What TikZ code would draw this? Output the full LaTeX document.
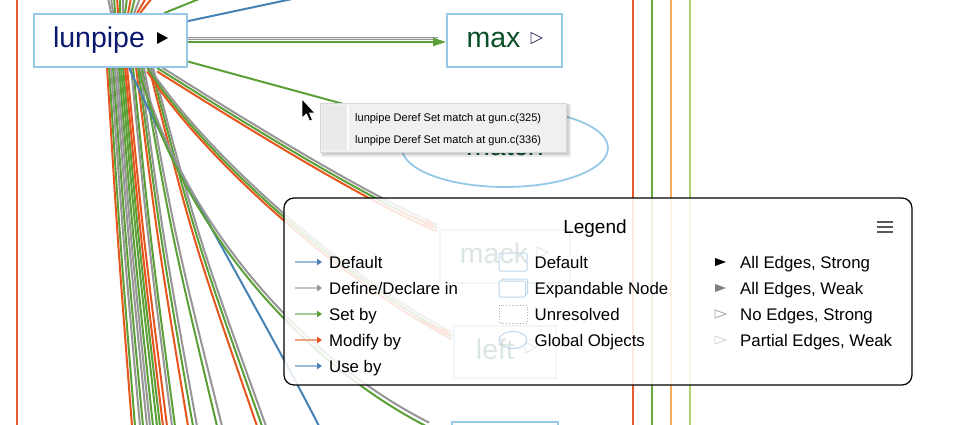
\documentclass[tikz,border=0pt]{standalone}
\usepackage{fontspec}
\setmainfont{Liberation Sans}
\usetikzlibrary{arrows.meta,shapes.geometric,calc}
\definecolor{nodeblue}{RGB}{150,200,232}
\definecolor{iconblue}{RGB}{190,215,235}
\definecolor{eblue}{RGB}{70,130,180}
\definecolor{egray}{RGB}{150,150,150}
\definecolor{egreen}{RGB}{90,160,55}
\definecolor{eorange}{RGB}{230,85,30}
\definecolor{vred}{RGB}{232,90,45}
\definecolor{vgreen}{RGB}{105,170,65}
\definecolor{vorange}{RGB}{250,170,90}
\definecolor{vlgreen}{RGB}{170,210,110}
\definecolor{navy}{RGB}{10,25,110}
\definecolor{dgreen}{RGB}{10,80,40}
\definecolor{hollowtri}{RGB}{70,50,100}
\definecolor{ttgray}{RGB}{240,240,240}
\definecolor{ttleft}{RGB}{234,234,234}
\definecolor{ttborder}{RGB}{215,215,215}
\newcommand\sizept[1]{\fontsize{#1pt}{#1pt}\selectfont}
\pgfdeclarelayer{edges}
\pgfdeclarelayer{bgnodes}
\pgfdeclarelayer{legendlayer}
\pgfdeclarelayer{toplayer}
\pgfsetlayers{edges,bgnodes,legendlayer,main,toplayer}
\begin{document}
\begin{tikzpicture}[x=1pt,y=-1pt,
  ln/.style={line width=2pt},
  nbox/.style={draw=nodeblue,line width=1.8pt,fill=white,inner sep=0pt,text height=20.5pt,text depth=6pt,font=\sizept{28.5}},
  arrowhd/.style={-{Triangle[length=13pt,width=8pt]}},
  legtxt/.style={anchor=base west,inner sep=0pt,font=\sizept{16.8}},
  legarrow/.style={line width=1.6pt,draw=#1!55!white,-{Triangle[length=5pt,width=6.5pt,color=#1]}}]
\useasboundingbox (0,0) rectangle (964,424);

% ---------- main nodes ----------
\begin{scope}
\clip (0,0) rectangle (964,424);
\node[nbox,minimum width=153pt,minimum height=53pt,text=navy] (lunpipe) at (110.5,40.5) {lunpipe\kern23pt};
\fill[black] (157,32) -- (168,38) -- (157,44) -- cycle;
\node[nbox,minimum width=115pt,minimum height=53pt,text=dgreen] (max) at (504.5,40.5) {max\kern22pt};
\draw[hollowtri,line width=0.8pt] (531,32.5) -- (542,38) -- (531,43.5) -- cycle;
\node[ellipse,draw=nodeblue,line width=1.8pt,fill=white,minimum width=206pt,minimum height=78pt,inner sep=0pt,text height=20.5pt,text depth=6pt,font=\sizept{28.5},text=dgreen] (match) at (505,148) {match};
\node[nbox,minimum width=106pt,minimum height=52pt] (bnode) at (505,448) {};
\end{scope}

% ---------- nodes hidden behind the legend ----------
\begin{pgfonlayer}{bgnodes}
\node[nbox,minimum width=130pt,minimum height=53pt,text=dgreen] (mack) at (505,256.5) {mack\kern22pt};
\draw[hollowtri,line width=0.8pt] (537,247) -- (548,252.5) -- (537,258) -- cycle;
\node[nbox,minimum width=102pt,minimum height=52pt,text=dgreen] (left) at (505,352) {left\kern20pt};
\draw[hollowtri,line width=0.8pt] (525,342) -- (536,347.5) -- (525,353) -- cycle;
\end{pgfonlayer}

% ---------- edges ----------
\begin{pgfonlayer}{edges}
\begin{scope}
\clip (0,0) rectangle (964,424);
% vertical lines
\foreach \x/\c [count=\i] in {17/vred,633/vred,652/vgreen,671/vorange,690/vlgreen}{
  \coordinate (vt\i) at (\x,-2);
  \coordinate (vb\i) at (\x,426);
  \draw[line width=2.2pt,\c] (vt\i) -- (vb\i);
}
% lines entering lunpipe from above
\foreach \t/\b/\c [count=\i] in {108/112/egray,111/114/egray,114/116/egreen,117/119/eorange,120/121/egreen,123/124/egray,127/126/egreen,131/129/eorange,135/132/egreen,140/135/egray,146/138/eorange,152/141/eorange}{
  \coordinate (tt\i) at (\t,-2);
  \draw[ln,\c] (tt\i) -- ($(lunpipe.north west)+({\b-34},0)$);
}
\coordinate (gtop) at (199,-1);
\draw[ln,egreen] ($(lunpipe.north west)+(131,0)$) -- (gtop);
\coordinate (btop) at (292,-1);
\draw[ln,eblue] ($(lunpipe.north east)+(0,8)$) -- (btop);
% lunpipe -> max
\draw[line width=3pt,egray] ($(lunpipe.east)+(0,-2.5)$) -- ($(max.west)+(-8,-2.5)$);
\draw[line width=0.7pt,white!75!egray] ($(lunpipe.east)+(0,-2.5)$) -- ($(max.west)+(-8,-2.5)$);
\draw[ln,egreen,arrowhd] ($(lunpipe.east)+(0,1.5)$) -- ($(max.west)+(0,1.5)$);
% lunpipe -> match (under tooltip)
\draw[ln,egreen] (lunpipe) -- (match);
% fan lines towards the bottom
\foreach \s/\e/\c [count=\i] in {108/132/eorange,110/135/egreen,112/140/egray,114/143/egreen,116/147/egray,118/150/egray,120/153/egreen,122/157/egreen,124/160/egreen,126/163/eorange,128/167/eorange,132/172/egray,134/175/egreen,137/188/eorange,139/193/egreen,141/197/egray,143/217/egreen,145/222/egray,150/257/eorange,152/262/egreen,154/266/egray}{
  \coordinate (fb\i) at (\e,426);
  \draw[ln,\c] ($(lunpipe.south west)+({\s-34},0)$) .. controls ({\s+0.4*(\e-\s)},240) .. (fb\i);
}
% blue curve to the bottom
\coordinate (dE) at (319,426);
\draw[ln,eblue] ($(lunpipe.south west)+(96,0)$) .. controls (175,170) and (265,320) .. (dE);
% group C (to the bottom node)
\coordinate (cE) at ($(bnode.north west)+(-22,4)$);
\foreach \o/\c in {-2.5/egray,2.5/egreen}{
  \draw[ln,\c] ($(lunpipe.south west)+(106,\o)$) .. controls (180,{220+\o}) and (300,{360+\o}) .. ($(cE)+(0,\o)$);
}
% group A (to mack)
\coordinate (aE) at ($(mack.north west)+(-2,-1)$);
\foreach \o/\c in {-3.5/egray,0/egreen,3.5/eorange}{
  \draw[ln,\c] ($(lunpipe.south west)+(124,\o)$) .. controls (240,{120+\o}) and (360,{195+\o}) .. ($(aE)+(0,\o)$);
}
\draw[ln,eorange,arrowhd] (400,211) -- (aE);
% group B (to left)
\coordinate (bE) at ($(left.north west)+(-1,11)$);
\foreach \o/\c in {-3.5/egray,0/egreen,3.5/eorange}{
  \draw[ln,\c] ($(lunpipe.south west)+(114,\o)$) .. controls (200,{150+\o}) and (330,{270+\o}) .. ($(bE)+(0,\o)$);
}
\draw[ln,eorange,arrowhd] (420,320) -- (bE);
\end{scope}
\end{pgfonlayer}

% ---------- legend ----------
\begin{pgfonlayer}{legendlayer}
\node[draw=black,line width=1.2pt,fill=white,fill opacity=0.86,rounded corners=10pt,minimum width=628pt,minimum height=187pt,inner sep=0pt] (legend) at (598,291.5) {};
\node[anchor=base,inner sep=0pt,font=\sizept{19}] (legtitle) at (595,233) {Legend};
\foreach \y in {222,227,232}{\draw[line width=1.8pt,black!65] (877,\y) -- (893,\y);}
% column 1
\foreach \c/\t/\y [count=\i] in {eblue/Default/262,egray/Define\slash Declare in/288,egreen/Set by/314,eorange/Modify by/340,eblue/Use by/366}{
  \node[legtxt] (la\i) at (329,\y+6) {\t};
  \coordinate (las\i) at (295,\y);
  \draw[legarrow=\c] (las\i) -- ($(la\i.base west)+(-7,-6)$);
}
% column 2
\draw[iconblue,line width=1pt,rounded corners=1.5pt] (499,253) rectangle (527,271);
\draw[iconblue,line width=1pt,rounded corners=1.5pt] (501,279) rectangle (527.5,295);
\draw[iconblue,line width=1pt,rounded corners=1.5pt,fill=white] (499,281) rectangle (525.5,297);
\draw[black!30,line width=0.8pt,dotted] (499,305) rectangle (527,323);
\draw[iconblue,line width=1pt] (513,340) ellipse [x radius=14, y radius=8.5];
\node[legtxt] (lb1) at (534.5,268) {Default};
\node[legtxt] (lb2) at (534.5,294) {Expandable Node};
\node[legtxt] (lb3) at (534.5,320) {Unresolved};
\node[legtxt] (lb4) at (534.5,346) {Global Objects};
% column 3
\fill[black] (715,258) -- (726,262) -- (715,266) -- cycle;
\fill[black!50] (715,284) -- (726,288) -- (715,292) -- cycle;
\draw[black!35,line width=0.8pt] (715,310) -- (726,314) -- (715,318) -- cycle;
\draw[black!18,line width=0.8pt] (715,336) -- (726,340) -- (715,344) -- cycle;
\node[legtxt] (lc1) at (740,268) {All Edges, Strong};
\node[legtxt] (lc2) at (740,294) {All Edges, Weak};
\node[legtxt] (lc3) at (740,320) {No Edges, Strong};
\node[legtxt] (lc4) at (740,346) {Partial Edges, Weak};
\end{pgfonlayer}

% ---------- tooltip and cursor ----------
\begin{pgfonlayer}{toplayer}
\fill[black,opacity=0.08] (321,104) rectangle (571,157);
\fill[black,opacity=0.12] (322,105) rectangle (569,155);
\node[fill=ttgray,draw=ttborder,line width=1pt,minimum width=246pt,minimum height=49pt,inner sep=0pt] (tooltip) at (443,127.5) {};
\fill[ttleft] ($(tooltip.north west)+(2.5,2.5)$) rectangle ($(tooltip.south west)+(27,-2.5)$);
\draw[white,line width=1.2pt] ($(tooltip.north west)+(28.5,2.5)$) -- ($(tooltip.south west)+(28.5,-2.5)$);
\node[anchor=base west,inner sep=0pt,font=\sizept{11}] (tt1) at (355,121.5) {lunpipe Deref Set match at gun.c(325)};
\node[anchor=base west,inner sep=0pt,font=\sizept{11}] (tt2) at (355,143.5) {lunpipe Deref Set match at gun.c(336)};
\filldraw[fill=black,draw=white,line width=0.8pt,line join=round] (302,99) -- (302,118) -- (306.5,114) -- (309.5,121) -- (312.5,120) -- (309.5,113) -- (315,113) -- cycle;
\end{pgfonlayer}
\end{tikzpicture}
\end{document}
